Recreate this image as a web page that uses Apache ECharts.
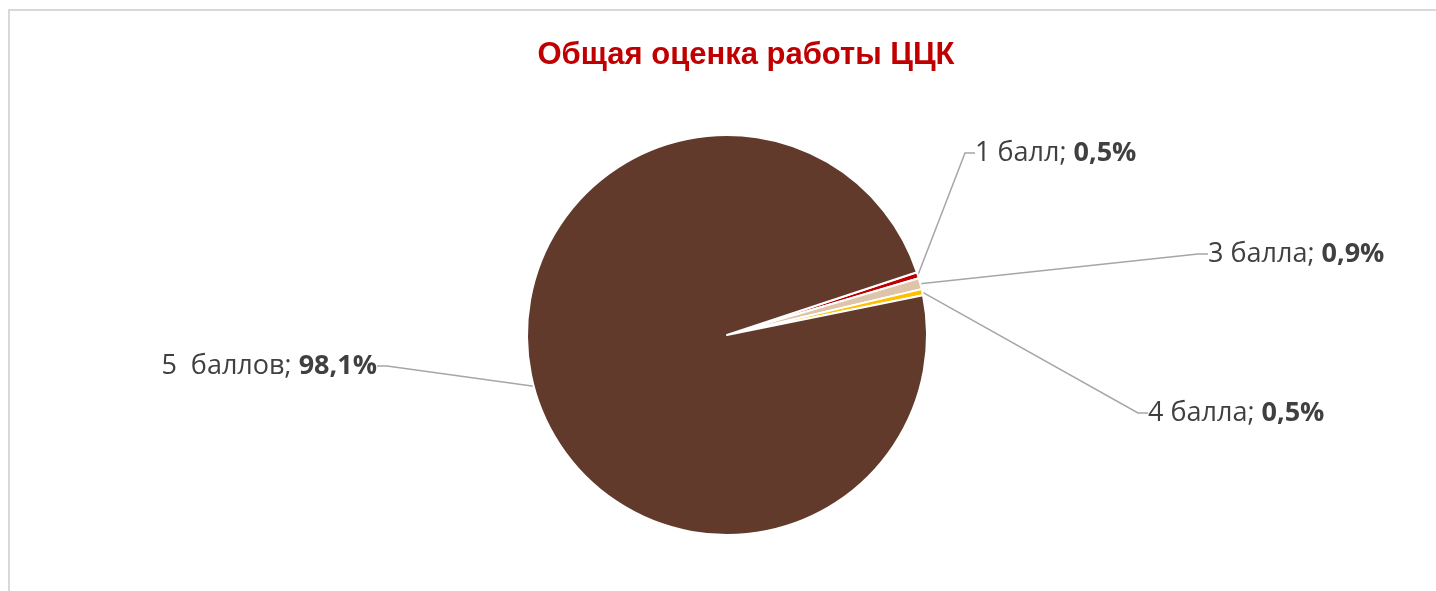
<!DOCTYPE html>
<html><head><meta charset="utf-8">
<script src="https://cdn.jsdelivr.net/npm/echarts@6/dist/echarts.min.js"></script>
<style>html,body{margin:0;padding:0;background:#fff}#c{width:1436px;height:591px}</style>
</head><body><div id="c"></div>
<script>
const titleText = 'Общая оценка работы ЦЦК';
const categories = ['1 балл', '3 балла', '4 балла', '5  баллов'];
const values = [0.5, 0.9, 0.5, 98.1];
const valueLabels = ['0,5%', '0,9%', '0,5%', '98,1%'];
const colors = ['#C00000', '#DEC4A9', '#FFC000', '#623A2B'];

const labelPos = [
  {x: 975, y: 153, align: 'left'},
  {x: 1208, y: 254, align: 'left'},
  {x: 1148, y: 413, align: 'left'},
  {x: 377, y: 366, align: 'right'}
];

const chart = echarts.init(document.getElementById('c'));
chart.setOption({
  animation: false,
  backgroundColor: '#fff',
  title: {
    text: titleText, left: 741, top: 35, textAlign: 'center',
    textStyle: {color: '#C00000', fontFamily: 'Liberation Sans, Arial', fontWeight: 'bold', fontSize: 31}
  },
  graphic: [{
    type: 'polyline', shape: {points: [[9, 600], [9, 10], [1450, 10]]},
    style: {stroke: '#D9D9D9', lineWidth: 2, fill: null}
  }],
  series: [{
    type: 'pie',
    center: [727, 335],
    radius: [0, 200],
    startAngle: 18.3,
    clockwise: true,
    data: categories.map((c, i) => ({name: c, value: values[i], itemStyle: {color: colors[i]}})),
    itemStyle: {borderColor: '#fff', borderWidth: 2},
    label: {
      show: true,
      formatter: p => '{n|' + p.name + '; }{v|' + valueLabels[p.dataIndex] + '}',
      rich: {
        n: {fontFamily: 'Open Sans', fontSize: 27, color: '#404040'},
        v: {fontFamily: 'Open Sans', fontSize: 27, color: '#404040', fontWeight: 'bold'}
      }
    },
    labelLine: {show: true, lineStyle: {color: '#A6A6A6', width: 1.5}, length: 20, length2: 10},
    labelLayout: p => {
      const lp = labelPos[p.dataIndex];
      return {x: lp.x, y: lp.y, align: lp.align, verticalAlign: 'middle', moveOverlap: false, hideOverlap: false};
    },
    emphasis: {disabled: true}
  }]
});
</script></body></html>
